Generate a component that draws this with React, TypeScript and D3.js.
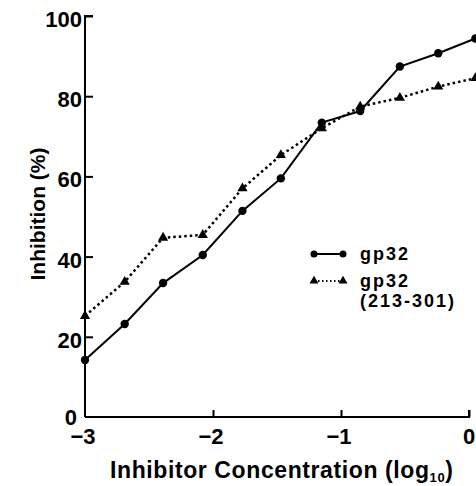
import React, { useEffect, useRef } from "react";
import * as d3 from "d3";

// log10 concentration
const logConc = [-3, -2.69, -2.39, -2.08, -1.77, -1.47, -1.15, -0.85, -0.54, -0.24, 0.05];
const gp32 = [14.2, 23.2, 33.4, 40.4, 51.4, 59.5, 73.4, 76.3, 87.4, 90.7, 94.4];
const gp32Frag = [25.2, 33.7, 44.7, 45.4, 57.0, 65.3, 72.0, 77.4, 79.6, 82.4, 84.5];
const xTicks = [-3, -2, -1, 0];
const yTicks = [0, 20, 40, 60, 80, 100];

const FONT = "'Liberation Sans', Arial, Helvetica, sans-serif";

function App() {
  const svgRef = useRef<SVGSVGElement>(null);

  useEffect(() => {
    const width = 476;
    const height = 486;
    const svg = d3.select(svgRef.current);
    svg.selectAll("*").remove();

    const x = d3.scaleLinear().domain([-3, 0]).range([85, 469]);
    const y = d3.scaleLinear().domain([0, 100]).range([417, 16]);

    const g = svg.append("g");

    // axes (inward ticks)
    const yAxis = d3.axisRight(y).tickValues(yTicks.filter((t) => t > 0)).tickSize(8).tickFormat(() => "");
    g.append("g").attr("transform", `translate(${x(-3)},0)`).call(yAxis)
      .call((s) => s.select(".domain").attr("d", `M8,${y(100)}H0V${y(0)}`))
      .call((s) => s.selectAll("line,path").attr("stroke", "#000").attr("stroke-width", 2));

    const xAxis = d3.axisTop(x).tickValues(xTicks.filter((t) => t > -3)).tickSize(7).tickFormat(() => "");
    g.append("g").attr("transform", `translate(0,${y(0)})`).call(xAxis)
      .call((s) => s.select(".domain").attr("d", `M${x(-3)},0H${x(0)}V-7`))
      .call((s) => s.selectAll("line,path").attr("stroke", "#000").attr("stroke-width", 2));

    // tick labels
    g.selectAll(".ylab").data(yTicks).join("text")
      .attr("x", (d) => (d === 0 ? 77 : 82)).attr("y", (d) => y(d) + (d === 0 ? 8 : 11))
      .attr("text-anchor", "end")
      .style("font-family", FONT).style("font-weight", "bold").style("font-size", "22px")
      .text((d) => d);

    g.selectAll(".xlab").data(xTicks).join("text")
      .attr("x", (d) => x(d) - (d < 0 ? 2 : 0)).attr("y", 444)
      .attr("text-anchor", "middle")
      .style("font-family", FONT).style("font-weight", "bold").style("font-size", "22px")
      .text((d) => (d < 0 ? "\u2212" + Math.abs(d) : String(d)));

    // axis titles
    g.append("text")
      .attr("transform", `translate(45,214) rotate(-90)`)
      .attr("text-anchor", "middle")
      .style("font-family", FONT).style("font-weight", "bold").style("font-size", "21px")
      .text("Inhibition (%)");

    const xt = g.append("text")
      .attr("x", 110).attr("y", 478)
      .style("font-family", FONT).style("font-weight", "bold").style("font-size", "23px")
      .style("letter-spacing", "0.6px");
    xt.append("tspan").text("Inhibitor Concentration (log");
    xt.append("tspan").attr("dy", 4).style("font-size", "13px").text("10");
    xt.append("tspan").attr("dy", -4).text(")");

    const pts = (vals: number[]) => logConc.map((c, i) => [c, vals[i]] as [number, number]);
    const line = d3.line<[number, number]>().x((d) => x(d[0])).y((d) => y(d[1]));

    // gp32 (213-301): dotted with triangles
    g.append("path").datum(pts(gp32Frag))
      .attr("d", line).attr("fill", "none").attr("stroke", "#000")
      .attr("stroke-width", 2.5).attr("stroke-dasharray", "2.5 3");
    const tri = d3.symbol().type(d3.symbolTriangle).size(45);
    g.selectAll(".tri").data(pts(gp32Frag)).join("path")
      .attr("d", tri).attr("transform", (d) => `translate(${x(d[0])},${y(d[1])})`)
      .attr("fill", "#000");

    // gp32: solid with circles
    g.append("path").datum(pts(gp32))
      .attr("d", line).attr("fill", "none").attr("stroke", "#000").attr("stroke-width", 2);
    g.selectAll(".dot").data(pts(gp32)).join("circle")
      .attr("cx", (d) => x(d[0])).attr("cy", (d) => y(d[1])).attr("r", 4.2).attr("fill", "#000");

    // legend
    const lg = g.append("g");
    lg.append("line").attr("x1", 314).attr("x2", 343).attr("y1", 254).attr("y2", 254)
      .attr("stroke", "#000").attr("stroke-width", 2);
    lg.selectAll(".lc").data([314, 343]).join("circle")
      .attr("cx", (d) => d).attr("cy", 254).attr("r", 3.5).attr("fill", "#000");
    lg.append("line").attr("x1", 314).attr("x2", 343).attr("y1", 281).attr("y2", 281)
      .attr("stroke", "#000").attr("stroke-width", 2).attr("stroke-dasharray", "1.5 2.5");
    lg.selectAll(".lt").data([314, 343]).join("path")
      .attr("d", d3.symbol().type(d3.symbolTriangle).size(35))
      .attr("transform", (d) => `translate(${d},281)`).attr("fill", "#000");

    const legText = (txt: string, yy: number) =>
      lg.append("text").attr("x", 360).attr("y", yy)
        .style("font-family", FONT).style("font-weight", "bold").style("font-size", "18px")
        .style("letter-spacing", "2px").text(txt);
    legText("gp32", 260);
    legText("gp32", 287);
    legText("(213-301)", 307);

    svg.attr("width", width).attr("height", height);
  }, []);

  return (
    <svg
      ref={svgRef}
      width={476}
      height={486}
      style={{ position: "absolute", left: 0, top: 0, background: "#fff" }}
    />
  );
}

export default App;
